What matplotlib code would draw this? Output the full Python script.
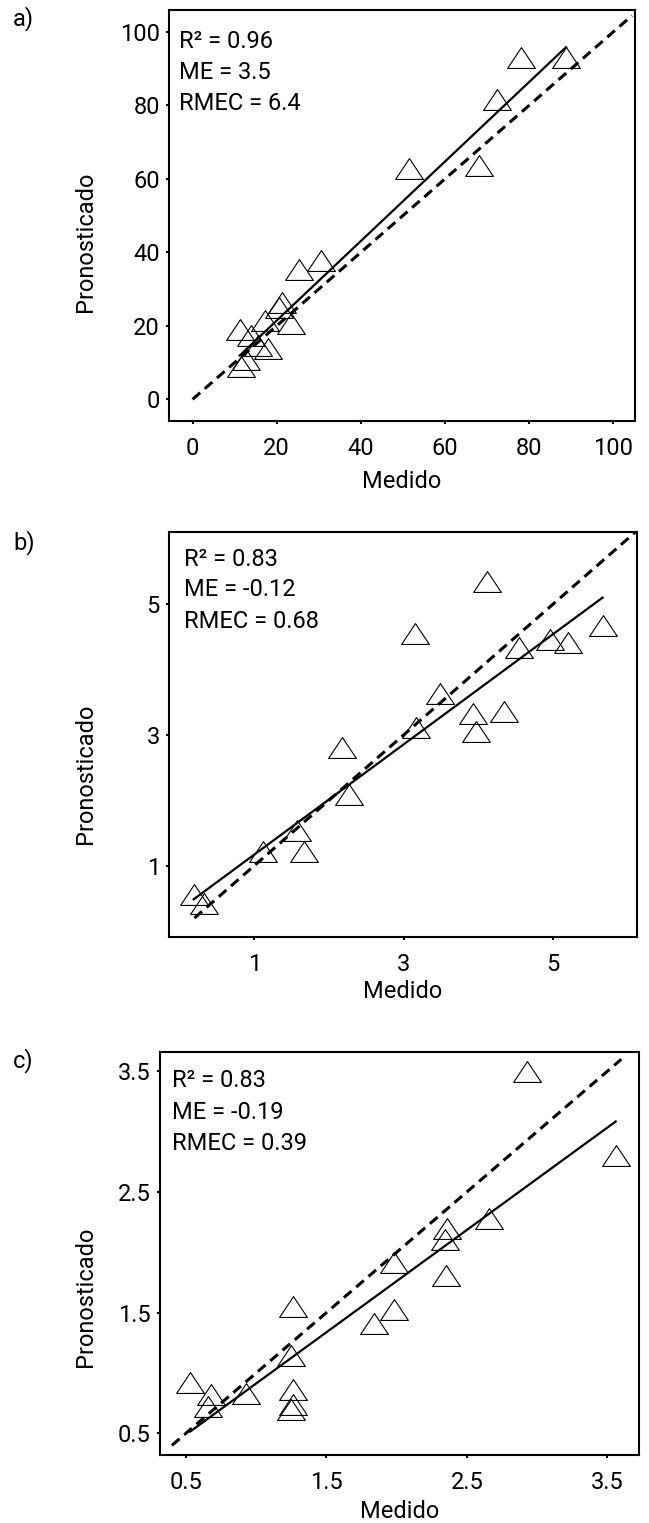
import matplotlib
matplotlib.use("Agg")
import matplotlib.pyplot as plt
from matplotlib.path import Path

# Data (Medido vs Pronosticado)
a_medido = [78.1, 88.8, 72.3, 51.4, 68.1, 25.2, 30.5, 21.2, 20.5, 23.5, 11.2, 18.0, 11.6, 14.0, 17.2, 12.8, 15.6]
a_pronos = [92.2, 92.0, 80.8, 62.0, 62.7, 34.3, 36.8, 25.4, 24.0, 19.8, 18.1, 12.8, 8.0, 16.3, 20.4, 9.8, 13.6]

b_medido = [4.12, 3.15, 4.54, 4.96, 5.20, 5.66, 3.48, 3.92, 4.34, 3.97, 3.16, 2.18, 2.27, 1.57, 1.12, 1.66, 0.19, 0.33]
b_pronos = [5.29, 4.50, 4.28, 4.40, 4.36, 4.61, 3.58, 3.28, 3.30, 3.00, 3.06, 2.75, 2.04, 1.48, 1.16, 1.16, 0.51, 0.37]

c_medido = [2.93, 3.56, 2.66, 2.36, 2.345, 2.35, 1.98, 1.98, 1.84, 1.26, 1.246, 0.53, 0.68, 0.66, 0.93, 1.26, 1.26, 1.25]
c_pronos = [3.47, 2.77, 2.25, 2.17, 2.08, 1.78, 1.89, 1.50, 1.38, 1.52, 1.115, 0.89, 0.79, 0.69, 0.80, 0.83, 0.71, 0.67]

# fitted line (intercept, slope) and extent of the 1:1 line
a_fit = [-0.2, 1.082]
b_fit = [0.326, 0.843]
c_fit = [0.065, 0.848]
a_oneone = [0, 104.5]
b_oneone = [0.2, 6.1]
c_oneone = [0.4, 3.6]

a_stats = ["R² = 0.96", "ME = 3.5", "RMEC = 6.4"]
b_stats = ["R² = 0.83", "ME = -0.12", "RMEC = 0.68"]
c_stats = ["R² = 0.83", "ME = -0.19", "RMEC = 0.39"]

a_ticks = [0, 20, 40, 60, 80, 100]
b_ticks = [1, 3, 5]
c_ticks = [0.5, 1.5, 2.5, 3.5]

plt.rcParams["font.family"] = ["Roboto", "DejaVu Sans"]

W, H = 649, 1523
fig = plt.figure(figsize=(W / 100, H / 100), dpi=100)

def rect(left, top, right, bottom):
    return [left / W, 1 - bottom / H, (right - left) / W, (bottom - top) / H]

# triangle with centroid at the origin (like R pch=2)
tri = Path([(0, 1), (-1, -0.5), (1, -0.5), (0, 1)],
           [Path.MOVETO, Path.LINETO, Path.LINETO, Path.CLOSEPOLY])

panels = [
    dict(box=(169, 10, 635, 421), xlim=(-5.6, 105.2), ylim=(-5.9, 106.0),
         x=a_medido, y=a_pronos, fit=a_fit, one=a_oneone, stats=a_stats, ticks=a_ticks,
         tag="a)", tag_y=19, stat_x=179, stat_y=[41.7, 72.7, 104], ylab_y=242, xlab_y=481),
    dict(box=(169, 532, 637, 937), xlim=(-0.14, 6.12), ylim=(-0.09, 6.10),
         x=b_medido, y=b_pronos, fit=b_fit, one=b_oneone, stats=b_stats, ticks=b_ticks,
         tag="b)", tag_y=543, stat_x=184, stat_y=[559, 590, 621.7], ylab_y=774, xlab_y=991),
    dict(box=(160, 1052, 639, 1455), xlim=(0.315, 3.726), ylim=(0.32, 3.66),
         x=c_medido, y=c_pronos, fit=c_fit, one=c_oneone, stats=c_stats, ticks=c_ticks,
         tag="c)", tag_y=1061, stat_x=171.7, stat_y=[1080.7, 1112.7, 1144], ylab_y=1297, xlab_y=1511),
]

fs = 17
for p in panels:
    ax = fig.add_axes(rect(*p["box"]))
    # 1:1 line
    ax.plot(p["one"], p["one"], color="black", lw=2.2, dashes=(3.3, 2.0))
    # regression line over the range of the measured values
    x0, x1 = min(p["x"]), max(p["x"])
    b0, b1 = p["fit"]
    ax.plot([x0, x1], [b0 + b1 * x0, b0 + b1 * x1], color="black", lw=1.6)
    ax.plot(p["x"], p["y"], linestyle="none", marker=tri, ms=20,
            mfc="none", mec="black", mew=0.8)
    ax.set_xlim(*p["xlim"])
    ax.set_ylim(*p["ylim"])
    ax.set_xticks(p["ticks"])
    ax.set_yticks(p["ticks"])
    ax.set_xticklabels([f"{t:g}" for t in p["ticks"]])
    ax.set_yticklabels([f"{t:g}" for t in p["ticks"]])
    ax.tick_params(axis="both", direction="out", length=2.5, width=1.5, labelsize=fs)
    ax.tick_params(axis="x", pad=9)
    ax.tick_params(axis="y", pad=4)
    for s in ax.spines.values():
        s.set_linewidth(1.5)

    # labels and annotations
    for txt, yy in zip(p["stats"], p["stat_y"]):
        fig.text(p["stat_x"] / W, 1 - yy / H, txt, fontsize=fs, va="center", ha="left")
    fig.text(13 / W, 1 - p["tag_y"] / H, p["tag"], fontsize=fs, va="center", ha="left")
    fig.text(86 / W, 1 - p["ylab_y"] / H, "Pronosticado", fontsize=fs, rotation=90,
             va="center", ha="center")
    cx = (p["box"][0] + p["box"][2]) / 2
    fig.text(cx / W, 1 - p["xlab_y"] / H, "Medido", fontsize=fs, va="center", ha="center")

fig.savefig("out.png", dpi=100)
print("Saved to out.png")
